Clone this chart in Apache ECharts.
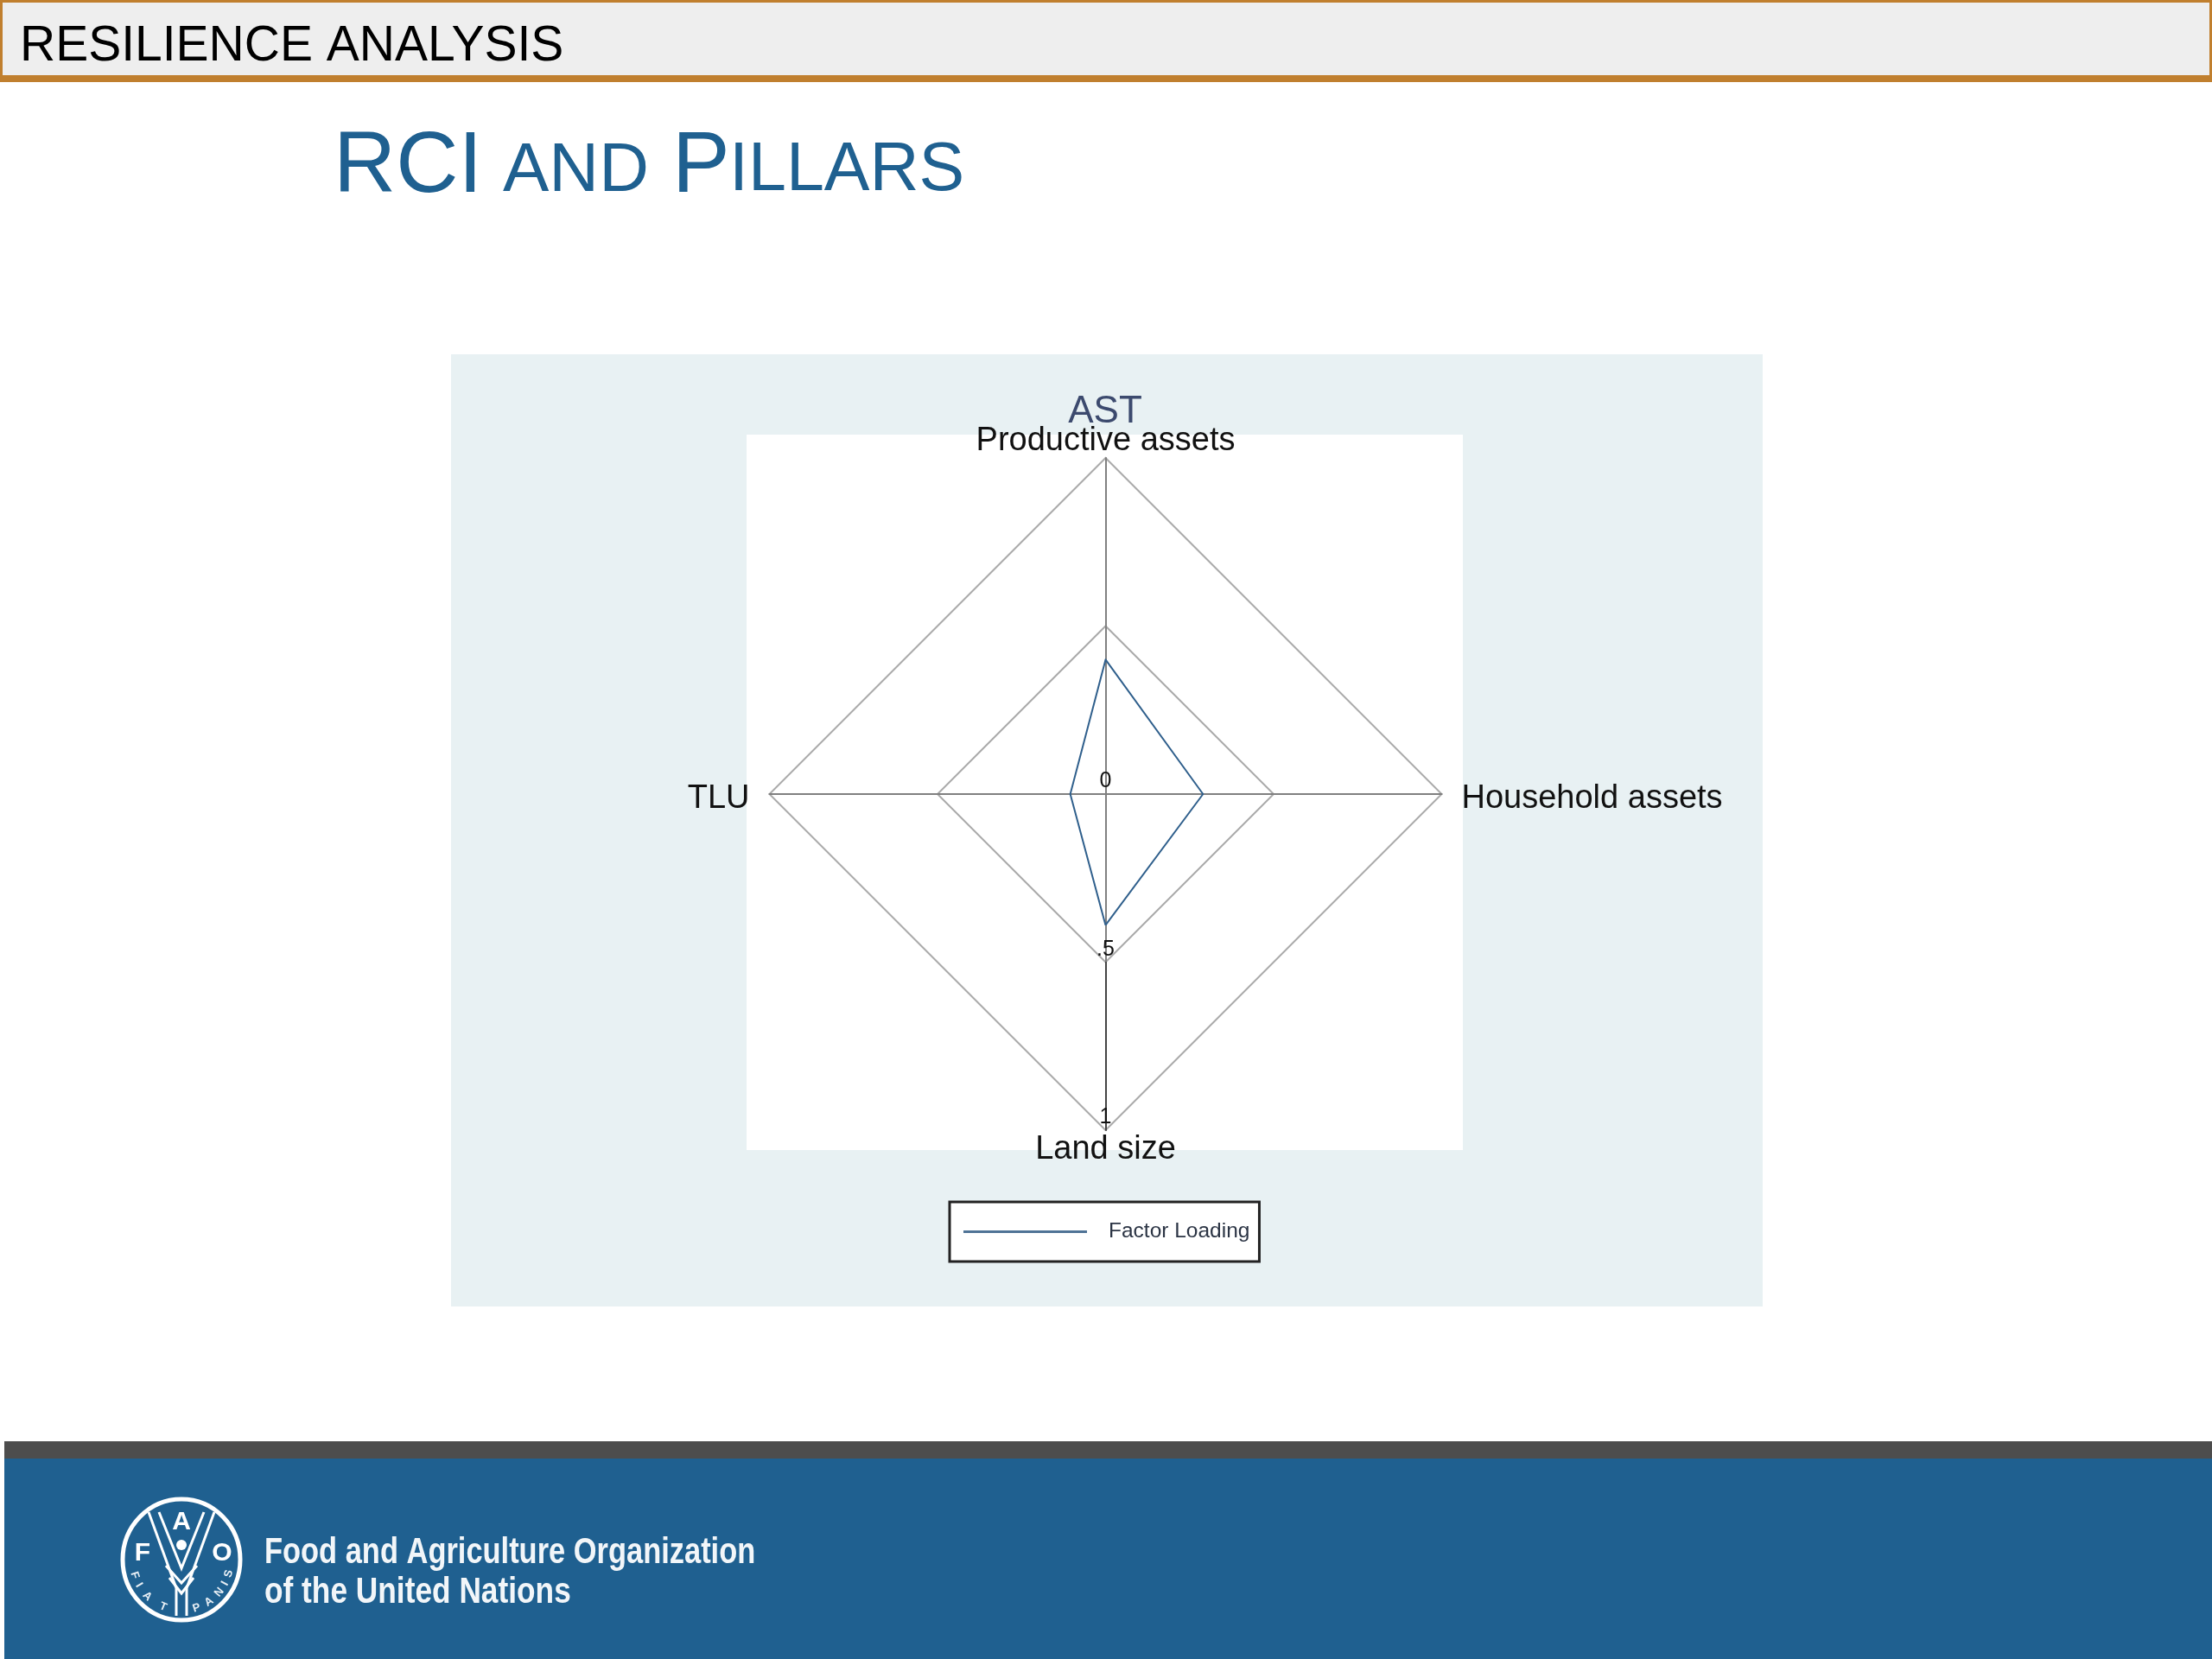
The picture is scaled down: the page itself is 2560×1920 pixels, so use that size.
<!DOCTYPE html>
<html>
<head>
<meta charset="utf-8">
<style>html,body{margin:0;padding:0;background:#fff}#c{width:2560px;height:1920px}</style>
<script src="https://cdn.jsdelivr.net/npm/echarts@6/dist/echarts.min.js"></script>
</head>
<body>
<div id="c"></div>
<script>
const categories = ['Land size', 'Household assets', 'Productive assets', 'TLU'];
const sideCategories = ['Household assets', 'TLU'];
const factorLoading = [0.39, 0.29, 0.40, 0.105];
const tickLabels = {0: '0', 0.5: '.5', 1: '1'};
const seriesName = 'Factor Loading';
const chartTitle = 'AST';
const font = '"Liberation Sans", Arial, sans-serif';

const blue = '#1f6090', lineBlue = '#2f5f8c';
const rect = (x, y, width, height, fill) => ({type: 'rect', z: -10, shape: {x, y, width, height}, style: {fill}});
const txt = (x, y, text, size, fill, extra, el) => Object.assign({type: 'text', z: -5, x, y, style: Object.assign({text, fill, font: size + 'px ' + font, verticalAlign: 'top', align: 'left'}, extra || {})}, el || {});
const stroke = (points, w) => ({type: 'polyline', z: -5, shape: {points}, style: {fill: 'none', stroke: '#fff', lineWidth: w || 3}});

const motto = [['F', 72], ['I', 60], ['A', 44], ['T', 22], ['P', -18], ['A', -34], ['N', -50], ['I', -62], ['S', -74]];
const logoCx = 210, logoCy = 1805;
const mottoEls = motto.map(([ch, deg]) => {
  const a = deg * Math.PI / 180;
  return {type: 'text', z: -5, x: logoCx - 57 * Math.sin(a), y: logoCy + 59 * Math.cos(a), rotation: -a,
    style: {text: ch, fill: '#e8eff5', font: 'bold 13px ' + font, align: 'center', verticalAlign: 'middle'}};
});
const logoLetter = (x, y, ch) => ({type: 'text', z: -5, x, y, style: {text: ch, fill: '#fff', font: 'bold 30px ' + font, align: 'center', verticalAlign: 'middle'}});

const graphics = [
  rect(0, 0, 2560, 95, '#c07f2e'),
  rect(3, 3, 2554, 84, '#eeeeee'),
  txt(23, 26, 'RESILIENCE ANALYSIS', 57, '#000'),
  txt(386, 144, 'RCI', 100, blue),
  txt(582, 159, 'AND', 80, blue),
  txt(778, 144, 'P', 100, blue),
  txt(844, 159, 'ILLARS', 79, blue),
  rect(522, 410, 1518, 1102, '#e8f1f3'),
  rect(864, 503, 829, 828, '#ffffff'),
  rect(5, 1668, 2555, 20, '#4d4d4d'),
  rect(5, 1688, 2555, 232, blue),
  {type: 'ellipse', z: -5, shape: {cx: logoCx, cy: logoCy, rx: 68, ry: 70}, style: {fill: 'none', stroke: '#fff', lineWidth: 5}},
  logoLetter(165, 1798, 'F'),
  logoLetter(210, 1762, 'A'),
  logoLetter(257, 1798, 'O'),
  stroke([[172, 1750], [204, 1838], [204, 1870]]),
  stroke([[248, 1750], [216, 1838], [216, 1870]]),
  stroke([[184, 1750], [210, 1815], [236, 1750]]),
  stroke([[192, 1812], [210, 1832], [228, 1812]]),
  stroke([[196, 1826], [210, 1844], [224, 1826]]),
  {type: 'circle', z: -5, shape: {cx: 210, cy: 1788, r: 6}, style: {fill: '#fff'}},
  txt(306, 1776, 'Food and Agriculture Organization', 42, '#f2f6f9', {font: 'bold 42px ' + font}, {scaleX: 0.82}),
  txt(306, 1822, 'of the United Nations', 42, '#f2f6f9', {font: 'bold 42px ' + font}, {scaleX: 0.84})
].concat(mottoEls);

const grey = '#808080';
const chart = echarts.init(document.getElementById('c'), null, {renderer: 'canvas', width: 2560, height: 1920});
chart.setOption({
  animation: false,
  backgroundColor: '#fff',
  textStyle: {fontFamily: font},
  graphic: {elements: graphics},
  title: {
    text: chartTitle, left: 1274, top: 450, textAlign: 'center',
    textStyle: {fontFamily: font, fontWeight: 'normal', fontSize: 44, color: '#3c4a6e'}
  },
  legend: {
    show: true, left: 1099, top: 1391, orient: 'horizontal',
    data: [seriesName], icon: 'rect', itemWidth: 143, itemHeight: 3,
    padding: [22, 11, 22, 16],
    backgroundColor: '#fff', borderColor: '#222', borderWidth: 3,
    itemStyle: {color: '#4f7396'},
    textStyle: {fontFamily: font, fontSize: 24.5, color: '#2b3444', padding: [0, 0, 0, 20]}
  },
  radar: {
    center: [1279.5, 919], radius: 389, startAngle: 270, splitNumber: 2, shape: 'polygon', nameGap: 0,
    axisName: {
      color: '#111', fontFamily: font, fontSize: 38, padding: [4, 23, 0, 23],
      formatter: (n) => sideCategories.includes(n) ? '{s| }\n{n|' + n + '}' : '{n|' + n + '}',
      rich: {
        s: {fontSize: 4, lineHeight: 8},
        n: {color: '#111', fontFamily: font, fontSize: 38}
      }
    },
    splitArea: {show: false},
    splitLine: {show: true, lineStyle: {color: '#aaaaaa', width: 2}},
    axisLine: {show: true, lineStyle: {color: grey, width: 2}},
    axisTick: {show: false},
    indicator: categories.map((name, i) => ({
      name, min: 0, max: 1,
      axisLine: {show: true, lineStyle: {width: 2, color: i === 0 ? {type: 'linear', x: 0, y: 0, x2: 0, y2: 1, colorStops: [
        {offset: 0, color: grey}, {offset: 0.5, color: grey}, {offset: 0.5, color: '#444444'}, {offset: 1, color: '#444444'}
      ]} : grey}},
      axisLabel: i === 0 ? {
        show: true, rotate: 0, margin: 0, align: 'center', verticalAlign: 'bottom', showMinLabel: true, showMaxLabel: true,
        color: '#111', fontFamily: font, fontSize: 25, padding: [0, 0, 2, 0],
        formatter: (v) => tickLabels[v] !== undefined ? tickLabels[v] : ''
      } : {show: false}
    }))
  },
  series: [{
    type: 'radar', name: seriesName, symbol: 'none',
    lineStyle: {color: lineBlue, width: 2}, itemStyle: {color: lineBlue},
    data: [{name: seriesName, value: factorLoading}]
  }]
});
</script>
</body>
</html>
